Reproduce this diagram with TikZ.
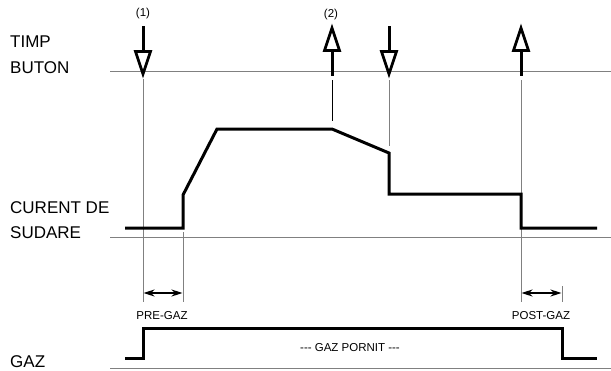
\documentclass[tikz,border=0pt]{standalone}
\usepackage{fontspec}
\setmainfont{Liberation Sans}
\usetikzlibrary{arrows.meta}
\tikzset{
  grayline/.style={draw=black!50, line width=1pt},
  wave/.style={draw=black, line width=3pt, line join=miter},
  shaft/.style={draw=black, line width=3pt},
  headtri/.style={draw=black, fill=white, line width=2.8pt, line join=miter, miter limit=10},
  biglabel/.style={anchor=base west, inner sep=0pt, font=\fontsize{17}{20}\selectfont},
  smalllabel/.style={inner sep=0pt, font=\fontsize{11.5}{13}\selectfont},
  dimarrow/.style={draw=black, line width=1.8pt, {Stealth[length=11pt,width=7pt]}-{Stealth[length=11pt,width=7pt]}},
}
\newcommand{\downarrowmark}[1]{%
  \draw[shaft] (#1,26) -- (#1,51);
  \draw[headtri] (#1-7.5,51.5) -- (#1+7.5,51.5) -- (#1,74) -- cycle;}
\newcommand{\uparrowmark}[1]{%
  \draw[shaft] (#1,51) -- (#1,76);
  \draw[headtri] (#1-7.5,50.5) -- (#1+7.5,50.5) -- (#1,28) -- cycle;}
\begin{document}
\begin{tikzpicture}[x=1pt,y=-1pt]
\useasboundingbox (0,0) rectangle (611,370);
% labels
\node[biglabel] (timp) at (10,47) {TIMP};
\node[biglabel] (buton) at (10,73) {BUTON};
\node[biglabel] (curent) at (10,213) {CURENT DE};
\node[biglabel] (sudare) at (10,238) {SUDARE};
\node[biglabel] (gaz) at (10,367) {GAZ};
% baselines
\draw[grayline] (110,71.5) -- (611,71.5);
\draw[grayline] (110,237.5) -- (611,237.5);
\draw[grayline] (110,368.5) -- (611,368.5);
% vertical guide lines
\coordinate (g1top) at (143,79);
\coordinate (g1bot) at (143,302);
\draw[grayline] (g1top) -- (g1bot);
\draw[grayline] (183,232) -- (183,302);
\draw[draw=black, line width=1pt] (332,80) -- (332,121);
\draw[grayline] (389,80) -- (389,146);
\draw[grayline] (521,80) -- (521,302);
\draw[grayline] (562,286) -- (562,302);
% button arrows
\downarrowmark{143}
\uparrowmark{332}
\downarrowmark{389}
\uparrowmark{521}
\node[smalllabel] (l1) at (143,14) {(1)};
\node[smalllabel] (l2) at (331,15) {(2)};
% current waveform
\draw[wave] (125,228) -- (183,228) -- (183,195) -- (217,129) -- (332,129) -- (389,153) -- (389,194) -- (521,194) -- (521,228) -- (597,228);
% gas waveform
\draw[wave] (125,358) -- (143,358) -- (143,328) -- (562,328) -- (562,358) -- (597,358);
% dimension arrows
\coordinate (pa) at (143.5,293);
\coordinate (pb) at (182.5,293);
\draw[dimarrow] (pa) -- (pb);
\coordinate (qa) at (521.5,293);
\coordinate (qb) at (561.5,293);
\draw[dimarrow] (qa) -- (qb);
\node[smalllabel] (pregaz) at (162,316) {PRE-GAZ};
\node[smalllabel] (postgaz) at (541,316) {POST-GAZ};
\node[smalllabel] (pornit) at (350,348) {-{}-{}- GAZ PORNIT -{}-{}-};
\end{tikzpicture}
\end{document}
